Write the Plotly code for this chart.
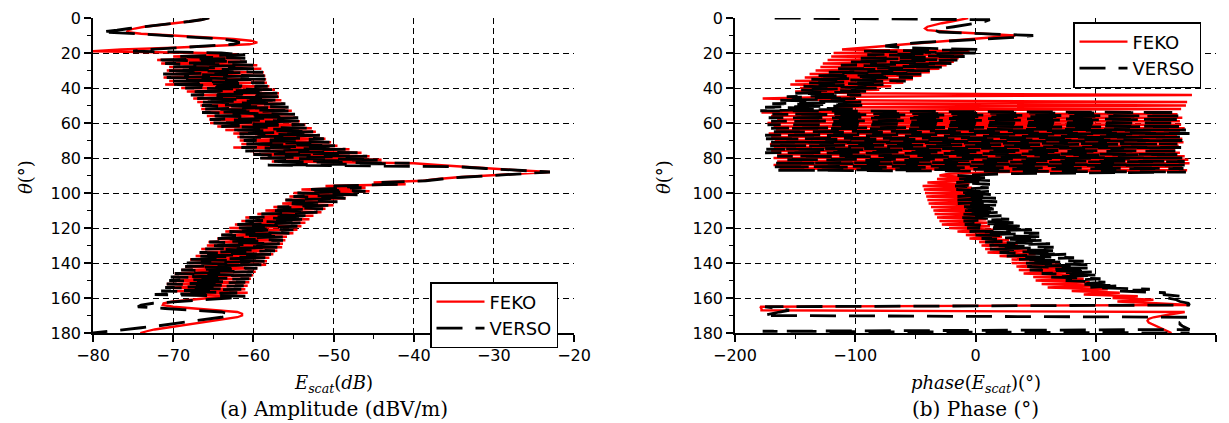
import plotly.graph_objects as go

# ---------------- data (theta in degrees, 1 deg step) ----------------
theta = list(range(0, 181))

amp_feko = [
    -65.5, -66.5, -68.0, -70.0, -72.0, -73.6, -74.8, -75.6, -75.8, -74.0,
    -70.0, -66.0, -62.5, -60.3, -59.5, -60.5, -64.5, -70.0, -76.5, -80.0,
    -66.0, -62.0, -70.0, -61.5, -72.0, -61.0, -71.5, -59.5, -70.5, -59.0,
    -70.8, -58.7, -71.0, -58.5, -71.2, -58.4, -70.5, -58.3, -71.0, -58.0,
    -69.0, -57.3, -68.3, -56.8, -67.5, -56.8, -67.5, -56.5, -67.0, -56.2,
    -66.6, -55.8, -66.5, -55.2, -66.4, -55.0, -65.8, -54.6, -65.5, -54.2,
    -65.4, -53.5, -64.5, -52.7, -63.5, -52.2, -62.5, -51.7, -62.0, -51.0,
    -61.7, -50.3, -61.5, -49.5, -62.5, -48.0, -60.4, -46.5, -60.0, -45.5,
    -59.0, -44.0, -57.7, -40.0, -37.0, -34.0, -30.5, -27.0, -23.0, -27.0,
    -31.0, -34.5, -37.0, -38.8, -45.0, -41.0, -51.0, -46.0, -54.0, -45.5,
    -55.0, -47.5, -55.5, -48.5, -56.0, -49.6, -56.4, -50.0, -57.5, -51.0,
    -58.5, -51.5, -59.5, -52.5, -61.0, -53.0, -61.5, -53.5, -62.3, -54.0,
    -63.0, -54.5, -63.5, -55.0, -64.0, -55.8, -64.5, -56.0, -65.6, -56.3,
    -65.8, -56.4, -66.5, -57.0, -66.7, -57.5, -67.2, -58.0, -67.9, -58.3,
    -68.0, -58.4, -68.5, -59.5, -69.0, -59.7, -69.8, -60.0, -70.0, -60.3,
    -70.2, -60.5, -70.8, -60.7, -70.5, -61.0, -70.0, -60.7, -68.9, -63.0,
    -65.5, -68.0, -70.0, -71.2, -71.3, -70.0, -67.0, -64.0, -62.0, -61.4,
    -61.4, -62.0, -63.5, -65.0, -66.5, -68.2, -69.5, -71.0, -72.3, -73.3,
    -74.1,
]

amp_verso = [
    -65.5, -66.5, -68.0, -70.0, -72.0, -73.8, -75.5, -77.0, -79.0, -74.5,
    -70.5, -67.0, -64.0, -62.3, -61.7, -62.5, -65.5, -69.5, -73.0, -75.0,
    -64.0, -61.0, -69.5, -61.0, -72.3, -60.8, -71.0, -60.0, -70.0, -59.5,
    -70.5, -58.8, -71.3, -58.6, -70.8, -58.5, -70.0, -58.6, -70.5, -58.2,
    -68.5, -57.5, -68.0, -57.0, -67.8, -56.9, -67.0, -56.6, -66.8, -56.0,
    -66.4, -55.6, -66.0, -55.0, -66.4, -54.8, -65.6, -54.4, -65.4, -54.0,
    -65.0, -53.6, -64.0, -53.0, -63.0, -52.4, -62.0, -51.7, -61.7, -51.2,
    -61.2, -50.5, -61.0, -49.8, -61.5, -48.5, -61.0, -47.0, -60.0, -45.8,
    -59.5, -44.5, -58.0, -40.5, -58.2, -34.5, -31.0, -27.5, -23.0, -26.5,
    -30.5, -34.0, -36.5, -38.5, -44.0, -42.0, -50.0, -46.5, -53.5, -46.0,
    -54.5, -47.0, -55.0, -48.5, -56.0, -49.5, -56.0, -50.5, -57.0, -51.3,
    -58.0, -52.0, -59.0, -52.8, -60.5, -53.3, -61.0, -53.8, -62.0, -54.5,
    -62.5, -55.0, -63.0, -55.5, -64.0, -56.0, -64.5, -56.3, -65.5, -56.7,
    -65.5, -57.0, -66.0, -57.3, -66.7, -57.8, -67.0, -58.3, -68.0, -58.6,
    -68.3, -59.0, -68.5, -59.5, -69.0, -60.0, -69.8, -60.2, -70.3, -60.5,
    -70.5, -61.0, -70.8, -61.2, -71.0, -61.5, -71.5, -62.0, -72.3, -61.0,
    -63.0, -66.5, -70.0, -72.5, -74.0, -74.4, -71.0, -67.0, -64.0, -62.9,
    -63.0, -64.0, -65.5, -67.0, -68.5, -70.0, -72.0, -74.0, -76.0, -78.0,
    -80.0,
]

ph_feko = [
    -6, -12, -20, -28, -35, -40, -42, -40, -20, 10,
    33, 15, -5, -22, -40, -58, -75, -93, -111, -5,
    -118, -10, -120, -14, -123, -18, -127, -24, -129, -30,
    -133, -38, -138, -45, -142, -52, -150, -60, -154, -70,
    -146, -80, -150, -100, 180, -110, -177, -112, 176, -108,
    175, -115, 171, -125, -178, 168, -170, 172, -165, 170,
    -173, 171, -168, 174, -166, 170, -172, 168, -170, 172,
    -167, 173, -171, 169, -168, 166, -170, 170, -165, 174,
    -168, 177, -165, 178, -168, 172, -163, 176, 20, -22,
    -30, -5, -32, -4, -40, -5, -44, -3, -43, -2,
    -42, 0, -41, 1, -40, 2, -39, 3, -37, 4,
    -35, 5, -34, 7, -32, 9, -30, 10, -28, 12,
    -22, 15, -15, 18, -8, 22, -5, 28, 3, 35,
    5, 40, 8, 45, 10, 50, 20, 55, 30, 65,
    30, 70, 34, 74, 36, 80, 40, 85, 48, 90,
    50, 95, 55, 100, 60, 110, 80, 120, 90, 135,
    114, 148, 118, 150, 178, -179, -178, -178, 174, 165,
    155, 148, 144, 143, 144, 147, 150, 154, 157, 160,
    163,
]

ph_verso = [
    -167, 12, 8, 0, -8, -18, -28, -34, -30, 5,
    48, 35, 5, -25, -45, -65, -75, -60, 3, -95,
    0, -90, -8, -96, -15, -105, -20, -112, -28, -115,
    -38, -122, -45, -135, -52, -137, -58, -140, -75, -143,
    -81, -146, -88, -150, -95, -157, -100, -163, -95, -169,
    -90, -175, -100, -179, 168, -169, 172, -172, 170, -170,
    168, -173, 171, -170, 175, -171, 178, -175, 170, -177,
    172, -170, 168, -172, 171, -174, 170, -175, 168, -165,
    172, -160, 174, -166, 174, -169, 173, -165, 175, 26,
    -15, 12, -17, 13, -16, 12, -17, 11, -16, 13,
    -15, 15, -15, 17, -15, 18, -15, 20, -14, 20,
    -13, 21, -12, 22, -11, 28, -10, 37, -9, 42,
    -7, 47, -5, 53, 0, 55, 5, 58, 8, 62,
    10, 65, 12, 68, 20, 76, 26, 82, 35, 90,
    40, 93, 43, 96, 45, 98, 55, 102, 62, 104,
    75, 108, 86, 120, 95, 145, 120, 158, 156, 170,
    160, 167, 170, 177, 178, -175, -165, -155, -163, -170,
    -177, 178, 176, 173, 170, 170, 172, 175, 178, -177,
    178,
]

series_names = ["FEKO", "VERSO"]
y_ticks = list(range(0, 181, 20))
amp_ticks = [-80, -70, -60, -50, -40, -30, -20]
ph_ticks = [-200, -100, 0, 100, 200]

RED = "#ff0000"
BLACK = "#000000"
SANS = "DejaVu Sans, Arial, sans-serif"
SERIF = "DejaVu Serif, Liberation Serif, serif"
TICKFONT = dict(family=SANS, size=16, color="black")

# pixel layout of the two panels
W, H = 1229, 423
L1, R1 = 93, 574
L2, R2 = 735, 1216
TOP, BOT = 18, 333
PW, PH = R2 - L1, BOT - TOP


def px(xp):
    return (xp - L1) / PW


def py(yp):
    return (BOT - yp) / PH


fig = go.Figure()

red_line = dict(color=RED, width=2.3)
black_line = dict(color=BLACK, width=2.8, dash="26px,13px")

fig.add_trace(go.Scatter(x=amp_feko, y=theta, mode="lines", line=red_line,
                         name=series_names[0], xaxis="x", yaxis="y", legend="legend"))
fig.add_trace(go.Scatter(x=amp_verso, y=theta, mode="lines", line=black_line,
                         name=series_names[1], xaxis="x", yaxis="y", legend="legend"))
fig.add_trace(go.Scatter(x=ph_feko, y=theta, mode="lines", line=red_line,
                         name=series_names[0], xaxis="x2", yaxis="y2", legend="legend2"))
fig.add_trace(go.Scatter(x=ph_verso, y=theta, mode="lines", line=black_line,
                         name=series_names[1], xaxis="x2", yaxis="y2", legend="legend2"))

common_axis = dict(
    showline=True, linecolor="black", linewidth=1.5,
    ticks="outside", ticklen=7, tickwidth=1.5, tickcolor="black",
    showgrid=True, gridcolor="black", gridwidth=1.3, griddash="6px,4px",
    zeroline=False, tickfont=TICKFONT, automargin=False,
)


def minor(d):
    return dict(dtick=d, ticks="outside", ticklen=4, tickwidth=1.2,
                tickcolor="black", showgrid=False)


legend_style = dict(xanchor="left", yanchor="top", bgcolor="white",
                    bordercolor="black", borderwidth=1.5,
                    font=dict(family=SANS, size=18, color="black"),
                    tracegroupgap=0, itemwidth=48)

fig.update_layout(
    width=W, height=H, autosize=False,
    margin=dict(l=L1, r=W - R2, t=TOP, b=H - BOT, pad=0, autoexpand=False),
    paper_bgcolor="white", plot_bgcolor="white",
    xaxis=dict(domain=[0, px(R1)], range=[-80, -20], tickvals=amp_ticks,
               minor=minor(5), anchor="y", **common_axis),
    yaxis=dict(domain=[0, 1], range=[180, 0], tickvals=y_ticks,
               minor=minor(10), anchor="x", **common_axis),
    xaxis2=dict(domain=[px(L2), 1], range=[-200, 200], tickvals=ph_ticks,
                minor=minor(50), anchor="y2", **common_axis),
    yaxis2=dict(domain=[0, 1], range=[180, 0], tickvals=y_ticks,
                minor=minor(10), anchor="x2", **common_axis),
    legend=dict(x=px(430), y=py(282), **legend_style),
    legend2=dict(x=px(1073), y=py(22), **legend_style),
    showlegend=True,
)

annos = [
    dict(x=px((L1 + R1) / 2), y=py(384), text="<i>E</i><sub><i>scat</i></sub>(<i>dB</i>)",
         font=dict(family=SERIF, size=18, color="black")),
    dict(x=px((L2 + R2) / 2), y=py(384), text="<i>phase</i>(<i>E</i><sub><i>scat</i></sub>)(°)",
         font=dict(family=SERIF, size=18, color="black")),
    dict(x=px((L1 + R1) / 2), y=py(409), text="(a) Amplitude (dBV/m)",
         font=dict(family=SERIF, size=20, color="black")),
    dict(x=px((L2 + R2) / 2), y=py(409), text="(b) Phase (°)",
         font=dict(family=SERIF, size=20, color="black")),
    dict(x=px(25), y=py(177), text="<i>θ</i>(°)", textangle=-90,
         font=dict(family=SERIF, size=18, color="black")),
    dict(x=px(663), y=py(177), text="<i>θ</i>(°)", textangle=-90,
         font=dict(family=SERIF, size=18, color="black")),
]
for a in annos:
    fig.add_annotation(xref="paper", yref="paper", showarrow=False,
                       xanchor="center", yanchor="middle", **a)

fig.write_html("out.html", config={"displayModeBar": False},
               post_script="document.body.style.margin='0px';")
